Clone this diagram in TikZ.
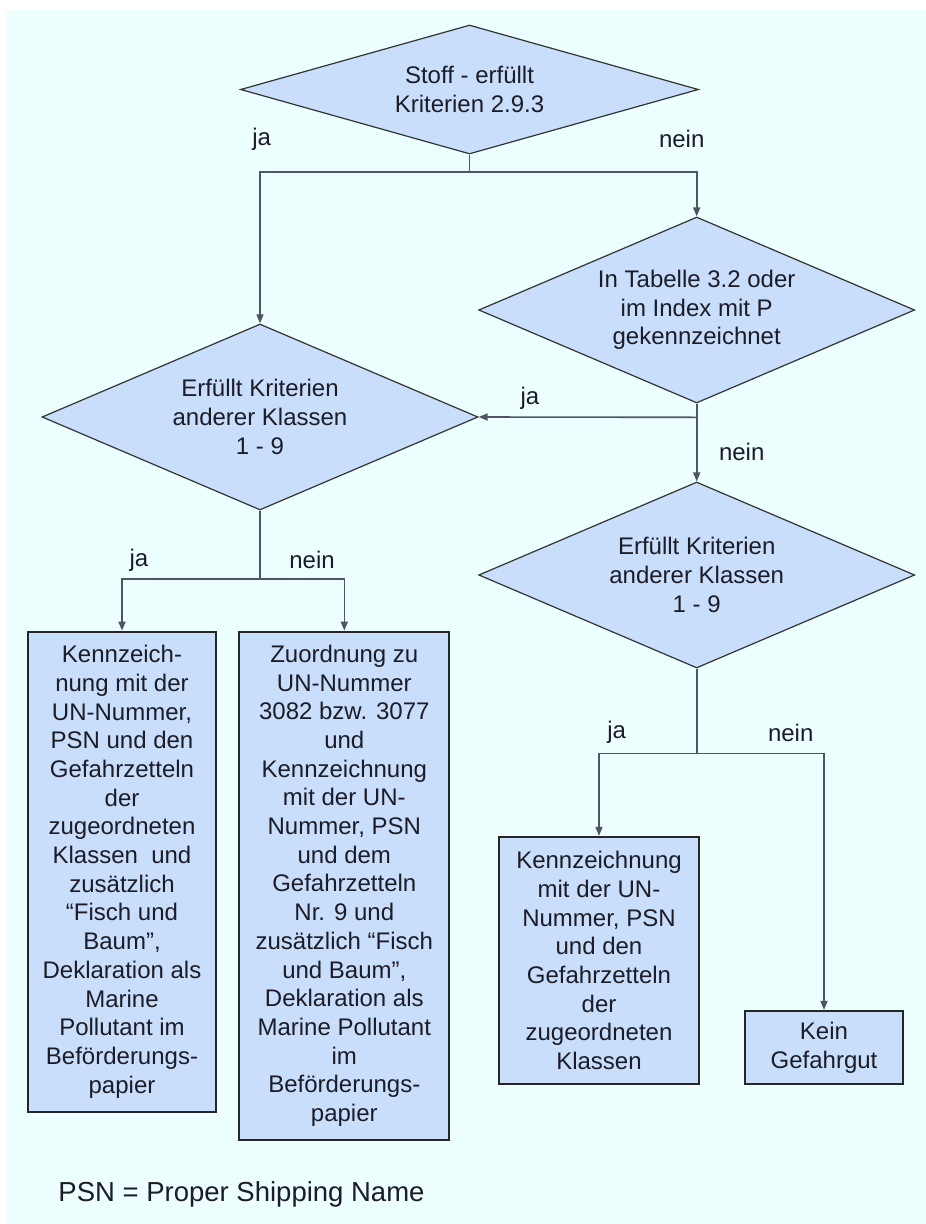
\documentclass[tikz,border=0pt]{standalone}
\usepackage{fontspec}
\setmainfont{Liberation Sans}
\usetikzlibrary{shapes.geometric,arrows.meta}
\definecolor{bgc}{RGB}{236,254,254}
\definecolor{shapefill}{RGB}{201,222,250}
\definecolor{linec}{RGB}{78,86,98}
\definecolor{txt}{RGB}{28,28,40}
\begin{document}
\begin{tikzpicture}[x=1pt,y=-1pt,
  txtfont/.style={font=\fontsize{24}{28.7}\selectfont, text=txt},
  dec/.style={shape=diamond, draw=black!80, line width=1.2pt, fill=shapefill,
    inner sep=0pt, align=center, txtfont},
  boxn/.style={shape=rectangle, draw=black!85, line width=2.2pt, fill=shapefill,
    inner sep=0pt, align=center, txtfont},
  lbl/.style={txtfont, inner sep=0pt},
  conn/.style={draw=linec, line width=1.6pt},
  arr/.style={conn, -{Triangle[length=9pt,width=7pt]}}]

% canvas
\useasboundingbox (0,0) rectangle (926,1224);
\fill[white] (0,0) rectangle (926,1224);
\fill[bgc] (7,10) rectangle (926,1224);

% decisions
\node[dec, aspect=3.55, minimum width=458, minimum height=129] (d1) at (469.5,89.5)
  {Stoff - erfüllt\\Kriterien 2.9.3};
\node[dec, aspect=2.34, minimum width=436, minimum height=186] (d3) at (696.7,310)
  {In Tabelle 3.2 oder\\im Index mit P\\gekennzeichnet};
\node[dec, aspect=2.34, minimum width=436, minimum height=186] (d2) at (260,417)
  {Erfüllt Kriterien\\anderer Klassen\\1 - 9};
\node[dec, aspect=2.34, minimum width=436, minimum height=186] (d4) at (696.7,575)
  {Erfüllt Kriterien\\anderer Klassen\\1 - 9};

% results
\node[boxn, minimum width=187.4, minimum height=480] (r1) at (122,871.7)
  {Kennzeich-\\nung mit der\\UN-Nummer,\\PSN und den\\Gefahrzetteln\\der\\zugeordneten\\Klassen~ und\\zusätzlich\\“Fisch und\\Baum”,\\Deklaration als\\Marine\\Pollutant im\\Beförderungs-\\papier};
\node[boxn, minimum width=210, minimum height=508] (r2) at (344.3,885.7)
  {Zuordnung zu\\UN-Nummer\\3082 bzw. 3077\\und\\Kennzeichnung\\mit der UN-\\Nummer, PSN\\und dem\\Gefahrzetteln\\Nr. 9 und\\zusätzlich “Fisch\\und Baum”,\\Deklaration als\\Marine Pollutant\\im\\Beförderungs-\\papier};
\node[boxn, minimum width=200, minimum height=247] (r3) at (599,960.5)
  {Kennzeichnung\\mit der UN-\\Nummer, PSN\\und den\\Gefahrzetteln\\der\\zugeordneten\\Klassen};
\node[boxn, minimum width=158, minimum height=73] (r4) at (824,1047.5)
  {Kein\\Gefahrgut};

% branch points
\coordinate (b1) at (469.5,171.7);
\coordinate (b2) at (696.7,417.3);
\coordinate (b3) at (260,579);
\coordinate (b4) at (696.7,753.3);

% connectors
\draw[conn] (d1.south) -- (b1);
\draw[arr] (b1) -| (d2.north);
\draw[arr] (b1) -| (d3.north);
\draw[conn] (d3.south) -- (b2);
\draw[arr] (b2) -- (d2.east);
\draw[arr] (b2) -- (d4.north);
\draw[conn] (d2.south) -- (b3);
\draw[arr] (b3) -| (r1.north);
\draw[arr] (b3) -| (r2.north);
\draw[conn] (d4.south) -- (b4);
\draw[arr] (b4) -| (r3.north);
\draw[arr] (b4) -| (r4.north);

% labels
\node[lbl] (l1) at (261.7,139.3) {ja};
\node[lbl] (l2) at (681.7,139.3) {nein};
\node[lbl] (l3) at (530,398) {ja};
\node[lbl] (l4) at (741.7,451.7) {nein};
\node[lbl] (l5) at (139,560) {ja};
\node[lbl] (l6) at (312,560) {nein};
\node[lbl] (l7) at (616.7,732.7) {ja};
\node[lbl] (l8) at (790.7,732.7) {nein};

% legend
\node[inner sep=0pt, font=\fontsize{27.5}{32}\selectfont, text=txt] (leg) at (241.5,1194.7)
  {PSN = Proper Shipping Name};
\end{tikzpicture}
\end{document}
